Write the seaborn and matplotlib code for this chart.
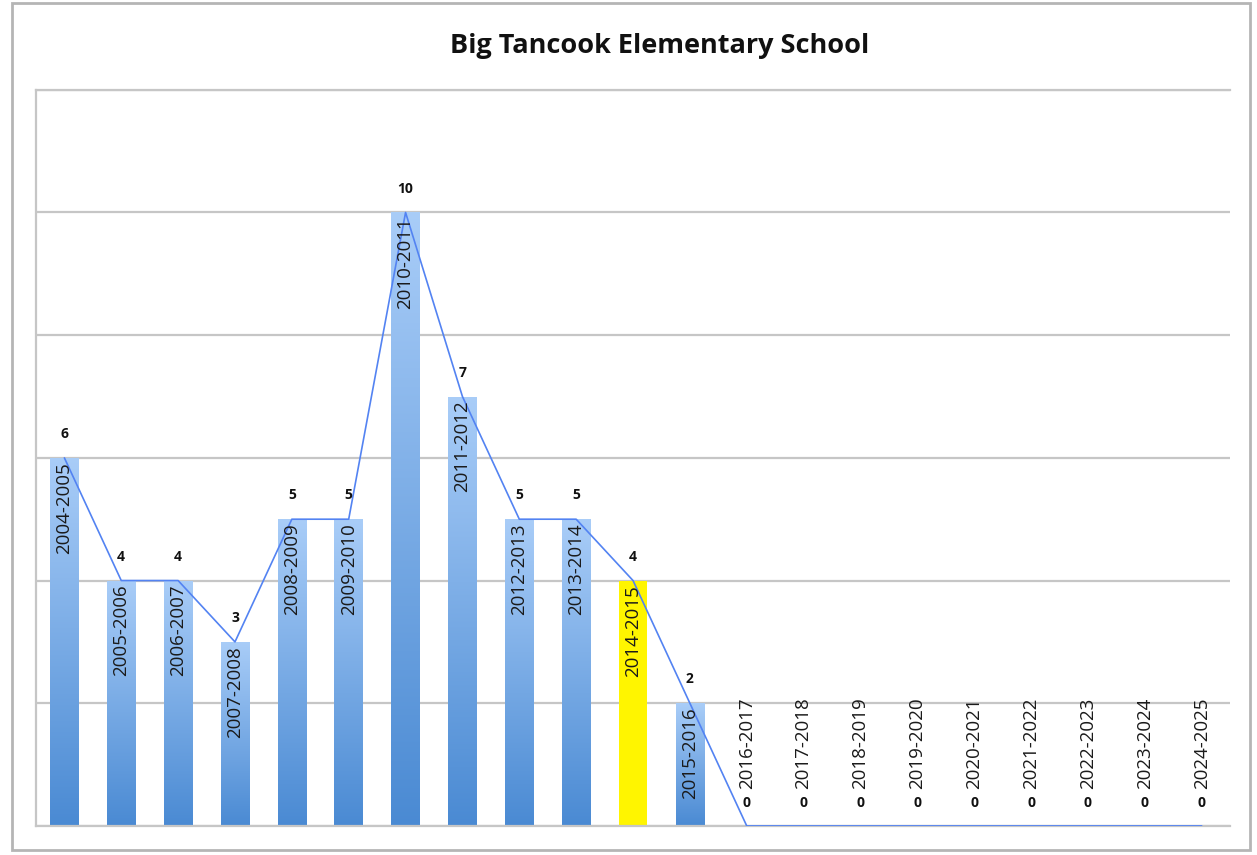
import numpy as np
import matplotlib
matplotlib.use("Agg")
import matplotlib.pyplot as plt
import seaborn as sns
from matplotlib.colors import LinearSegmentedColormap
from matplotlib.patches import Rectangle

# data
years = [
    "2004-2005", "2005-2006", "2006-2007", "2007-2008", "2008-2009",
    "2009-2010", "2010-2011", "2011-2012", "2012-2013", "2013-2014",
    "2014-2015", "2015-2016", "2016-2017", "2017-2018", "2018-2019",
    "2019-2020", "2020-2021", "2021-2022", "2022-2023", "2023-2024",
    "2024-2025",
]
students = [6, 4, 4, 3, 5, 5, 10, 7, 5, 5, 4, 2, 0, 0, 0, 0, 0, 0, 0, 0, 0]
highlight = "2014-2015"

sns.set_theme(style="white")
plt.rcParams["font.family"] = ["Open Sans", "DejaVu Sans"]

fig = plt.figure(figsize=(12.57, 8.55), dpi=100)
ax = fig.add_axes([0.0286, 0.034, 0.950, 0.861])

sns.barplot(x=years, y=students, color="#6fa5e6", width=0.5, ax=ax, zorder=2)

blue_grad = LinearSegmentedColormap.from_list("bg", ["#4a8ad3", "#a9cdf8"])
grad = np.linspace(0, 1, 256).reshape(-1, 1)
for patch, yr in zip(ax.patches, years):
    x0, w, h = patch.get_x(), patch.get_width(), patch.get_height()
    if h <= 0:
        continue
    patch.set_edgecolor("none")
    if yr == highlight:
        patch.set_facecolor("#fff500")
        continue
    patch.set_facecolor("none")
    im = ax.imshow(grad, cmap=blue_grad, aspect="auto", origin="lower",
                   extent=[x0, x0 + w, 0, h], zorder=2)
    im.set_clip_path(patch)

# trend line through bar tops
sns.lineplot(x=np.arange(len(years)), y=students, color="#5383f2",
             linewidth=1.2, ax=ax, zorder=3)

for i, (yr, v) in enumerate(zip(years, students)):
    if v > 0:
        ax.text(i, v - 0.07, yr, rotation=90, ha="center", va="top",
                fontsize=13.5, color="#1a1a1a", zorder=4)
        ax.text(i, v + 0.39, str(v), ha="center", va="center",
                fontsize=10, fontweight="bold", color="#111111", zorder=4)
    else:
        ax.text(i, 0.6, yr, rotation=90, ha="center", va="bottom",
                fontsize=13.5, color="#1a1a1a", zorder=4)
        ax.text(i, 0.37, "0", ha="center", va="center",
                fontsize=10, fontweight="bold", color="#111111", zorder=4)

ax.set_xlim(-0.5, len(years) - 0.5)
ax.set_ylim(0, 12)
ax.set_yticks([0, 2, 4, 6, 8, 10, 12])
ax.yaxis.grid(True, color="#c6c6c6", linewidth=1.6, zorder=0)
ax.set_axisbelow(True)
ax.set_xticks([])
ax.set_yticklabels([])
ax.tick_params(left=False, bottom=False)
for side in ["left", "top", "bottom"]:
    ax.spines[side].set_color("#c6c6c6")
    ax.spines[side].set_linewidth(1.6)
ax.spines["right"].set_visible(False)

fig.text(0.525, 0.946, "Big Tancook Elementary School", ha="center",
         va="center", fontsize=19.5, fontweight="bold", color="#111111")

fig.patches.append(Rectangle((0.0095, 0.006), 0.985, 0.99, transform=fig.transFigure,
                             fill=False, edgecolor="#b5b5b5", linewidth=2))

fig.savefig("out.png", dpi=100)
